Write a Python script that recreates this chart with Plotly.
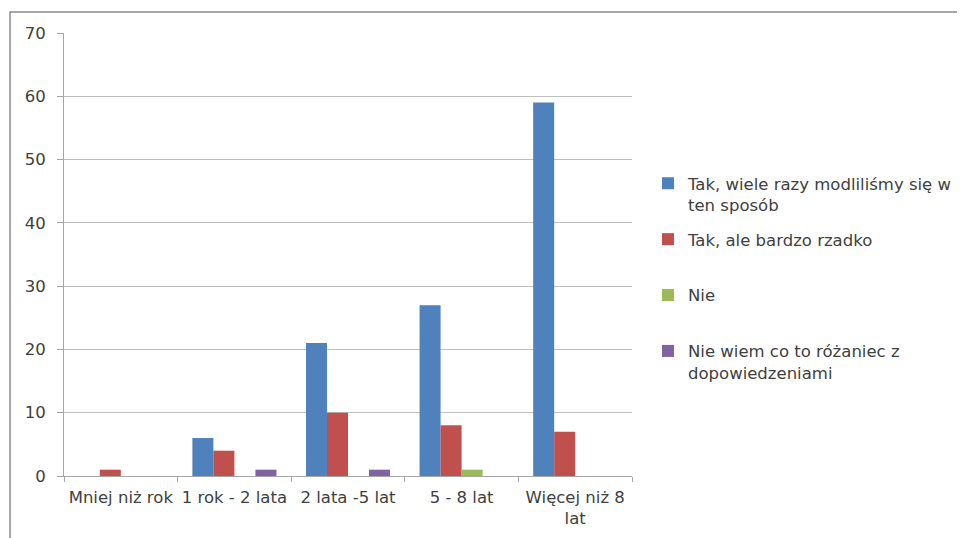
import plotly.graph_objects as go

categories = ["Mniej niż rok", "1 rok - 2 lata", "2 lata -5 lat", "5 - 8 lat", "Więcej niż 8<br>lat"]
series_names = [
    "Tak, wiele razy modliliśmy się w<br>ten sposób",
    "Tak, ale bardzo rzadko<br> ",
    "Nie<br> ",
    "Nie wiem co to różaniec z<br>dopowiedzeniami",
]
tak_wiele = [0, 6, 21, 27, 59]
tak_rzadko = [1, 4, 10, 8, 7]
nie = [0, 0, 0, 1, 0]
nie_wiem = [0, 1, 1, 0, 0]
y_ticks = [0, 10, 20, 30, 40, 50, 60, 70]

colors = ["#4F81BD", "#C0504D", "#9BBB59", "#8064A2"]
values = [tak_wiele, tak_rzadko, nie, nie_wiem]

OFF = 8  # default body margin of the html page
W, H = 965, 538
L, T = 64 - OFF, 33 - OFF
pw, ph = 568, 443
R, B = W - L - pw, H - T - ph

fig = go.Figure()
for i, (name, vals) in enumerate(zip(series_names, values)):
    fig.add_trace(go.Bar(
        x=categories, y=vals, name=name,
        marker=dict(color=colors[i], line=dict(width=0)),
        legendgroup=f"g{i}",
    ))

font_family = "DejaVu Sans, sans-serif"
fs = 16.5
fig.update_layout(
    width=W, height=H,
    margin=dict(l=L, r=R, t=T, b=B, autoexpand=False),
    paper_bgcolor="white", plot_bgcolor="white",
    barmode="group", bargap=0.26, bargroupgap=0,
    font=dict(family=font_family, size=fs, color="#404040"),
    showlegend=True,
    legend=dict(
        x=(648 - OFF - L) / pw, xanchor="left",
        y=1 - (166 - OFF - T) / ph, yanchor="top",
        traceorder="grouped", tracegroupgap=10,
        valign="top",
        font=dict(family=font_family, size=fs, color="#404040"),
        bgcolor="rgba(0,0,0,0)",
    ),
    xaxis=dict(
        type="category", showgrid=False, showline=True, linecolor="#A6A6A6", linewidth=1,
        ticks="outside", tickson="boundaries", ticklen=5, tickcolor="#A6A6A6",
        tickangle=0,
        tickfont=dict(size=fs, color="#404040"), ticklabelstandoff=6,
    ),
    yaxis=dict(
        range=[0, 70], tickvals=y_ticks, showgrid=True, gridcolor="#BFBFBF", gridwidth=1,
        showline=True, linecolor="#A6A6A6", linewidth=1, zeroline=False,
        ticks="outside", ticklen=6, tickcolor="#A6A6A6",
        tickfont=dict(size=fs, color="#404040"), ticklabelstandoff=8,
    ),
    shapes=[dict(
        type="rect", xref="paper", yref="paper",
        x0=(10 - OFF - L) / pw, x1=(990 - L) / pw,
        y0=-(580 - (T + ph)) / ph, y1=1 + (T - (12 - OFF)) / ph,
        line=dict(color="#8C8C8C", width=1.5), fillcolor="rgba(0,0,0,0)", layer="below",
    )],
)

fig.write_html("out.html")
